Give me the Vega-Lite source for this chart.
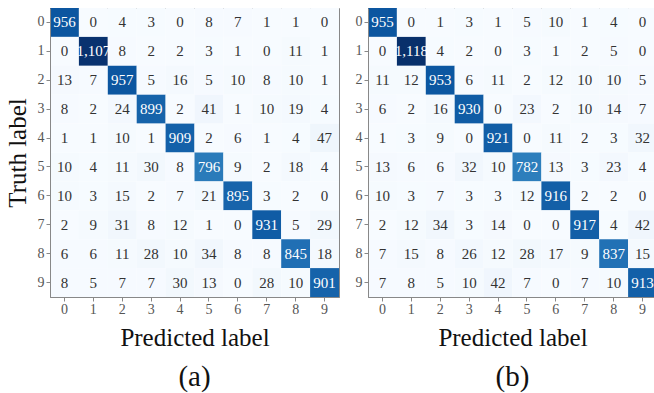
{
  "$schema": "https://vega.github.io/schema/vega-lite/v6.json",
  "background": "white",
  "padding": {"left": 4, "top": 7, "right": 0, "bottom": 0},
  "spacing": 14,
  "datasets": {
    "a": [
      {"t":0,"p":0,"v":956},{"t":0,"p":1,"v":0},{"t":0,"p":2,"v":4},{"t":0,"p":3,"v":3},{"t":0,"p":4,"v":0},{"t":0,"p":5,"v":8},{"t":0,"p":6,"v":7},{"t":0,"p":7,"v":1},{"t":0,"p":8,"v":1},{"t":0,"p":9,"v":0},
      {"t":1,"p":0,"v":0},{"t":1,"p":1,"v":1107},{"t":1,"p":2,"v":8},{"t":1,"p":3,"v":2},{"t":1,"p":4,"v":2},{"t":1,"p":5,"v":3},{"t":1,"p":6,"v":1},{"t":1,"p":7,"v":0},{"t":1,"p":8,"v":11},{"t":1,"p":9,"v":1},
      {"t":2,"p":0,"v":13},{"t":2,"p":1,"v":7},{"t":2,"p":2,"v":957},{"t":2,"p":3,"v":5},{"t":2,"p":4,"v":16},{"t":2,"p":5,"v":5},{"t":2,"p":6,"v":10},{"t":2,"p":7,"v":8},{"t":2,"p":8,"v":10},{"t":2,"p":9,"v":1},
      {"t":3,"p":0,"v":8},{"t":3,"p":1,"v":2},{"t":3,"p":2,"v":24},{"t":3,"p":3,"v":899},{"t":3,"p":4,"v":2},{"t":3,"p":5,"v":41},{"t":3,"p":6,"v":1},{"t":3,"p":7,"v":10},{"t":3,"p":8,"v":19},{"t":3,"p":9,"v":4},
      {"t":4,"p":0,"v":1},{"t":4,"p":1,"v":1},{"t":4,"p":2,"v":10},{"t":4,"p":3,"v":1},{"t":4,"p":4,"v":909},{"t":4,"p":5,"v":2},{"t":4,"p":6,"v":6},{"t":4,"p":7,"v":1},{"t":4,"p":8,"v":4},{"t":4,"p":9,"v":47},
      {"t":5,"p":0,"v":10},{"t":5,"p":1,"v":4},{"t":5,"p":2,"v":11},{"t":5,"p":3,"v":30},{"t":5,"p":4,"v":8},{"t":5,"p":5,"v":796},{"t":5,"p":6,"v":9},{"t":5,"p":7,"v":2},{"t":5,"p":8,"v":18},{"t":5,"p":9,"v":4},
      {"t":6,"p":0,"v":10},{"t":6,"p":1,"v":3},{"t":6,"p":2,"v":15},{"t":6,"p":3,"v":2},{"t":6,"p":4,"v":7},{"t":6,"p":5,"v":21},{"t":6,"p":6,"v":895},{"t":6,"p":7,"v":3},{"t":6,"p":8,"v":2},{"t":6,"p":9,"v":0},
      {"t":7,"p":0,"v":2},{"t":7,"p":1,"v":9},{"t":7,"p":2,"v":31},{"t":7,"p":3,"v":8},{"t":7,"p":4,"v":12},{"t":7,"p":5,"v":1},{"t":7,"p":6,"v":0},{"t":7,"p":7,"v":931},{"t":7,"p":8,"v":5},{"t":7,"p":9,"v":29},
      {"t":8,"p":0,"v":6},{"t":8,"p":1,"v":6},{"t":8,"p":2,"v":11},{"t":8,"p":3,"v":28},{"t":8,"p":4,"v":10},{"t":8,"p":5,"v":34},{"t":8,"p":6,"v":8},{"t":8,"p":7,"v":8},{"t":8,"p":8,"v":845},{"t":8,"p":9,"v":18},
      {"t":9,"p":0,"v":8},{"t":9,"p":1,"v":5},{"t":9,"p":2,"v":7},{"t":9,"p":3,"v":7},{"t":9,"p":4,"v":30},{"t":9,"p":5,"v":13},{"t":9,"p":6,"v":0},{"t":9,"p":7,"v":28},{"t":9,"p":8,"v":10},{"t":9,"p":9,"v":901}
    ],
    "b": [
      {"t":0,"p":0,"v":955},{"t":0,"p":1,"v":0},{"t":0,"p":2,"v":1},{"t":0,"p":3,"v":3},{"t":0,"p":4,"v":1},{"t":0,"p":5,"v":5},{"t":0,"p":6,"v":10},{"t":0,"p":7,"v":1},{"t":0,"p":8,"v":4},{"t":0,"p":9,"v":0},
      {"t":1,"p":0,"v":0},{"t":1,"p":1,"v":1118},{"t":1,"p":2,"v":4},{"t":1,"p":3,"v":2},{"t":1,"p":4,"v":0},{"t":1,"p":5,"v":3},{"t":1,"p":6,"v":1},{"t":1,"p":7,"v":2},{"t":1,"p":8,"v":5},{"t":1,"p":9,"v":0},
      {"t":2,"p":0,"v":11},{"t":2,"p":1,"v":12},{"t":2,"p":2,"v":953},{"t":2,"p":3,"v":6},{"t":2,"p":4,"v":11},{"t":2,"p":5,"v":2},{"t":2,"p":6,"v":12},{"t":2,"p":7,"v":10},{"t":2,"p":8,"v":10},{"t":2,"p":9,"v":5},
      {"t":3,"p":0,"v":6},{"t":3,"p":1,"v":2},{"t":3,"p":2,"v":16},{"t":3,"p":3,"v":930},{"t":3,"p":4,"v":0},{"t":3,"p":5,"v":23},{"t":3,"p":6,"v":2},{"t":3,"p":7,"v":10},{"t":3,"p":8,"v":14},{"t":3,"p":9,"v":7},
      {"t":4,"p":0,"v":1},{"t":4,"p":1,"v":3},{"t":4,"p":2,"v":9},{"t":4,"p":3,"v":0},{"t":4,"p":4,"v":921},{"t":4,"p":5,"v":0},{"t":4,"p":6,"v":11},{"t":4,"p":7,"v":2},{"t":4,"p":8,"v":3},{"t":4,"p":9,"v":32},
      {"t":5,"p":0,"v":13},{"t":5,"p":1,"v":6},{"t":5,"p":2,"v":6},{"t":5,"p":3,"v":32},{"t":5,"p":4,"v":10},{"t":5,"p":5,"v":782},{"t":5,"p":6,"v":13},{"t":5,"p":7,"v":3},{"t":5,"p":8,"v":23},{"t":5,"p":9,"v":4},
      {"t":6,"p":0,"v":10},{"t":6,"p":1,"v":3},{"t":6,"p":2,"v":7},{"t":6,"p":3,"v":3},{"t":6,"p":4,"v":3},{"t":6,"p":5,"v":12},{"t":6,"p":6,"v":916},{"t":6,"p":7,"v":2},{"t":6,"p":8,"v":2},{"t":6,"p":9,"v":0},
      {"t":7,"p":0,"v":2},{"t":7,"p":1,"v":12},{"t":7,"p":2,"v":34},{"t":7,"p":3,"v":3},{"t":7,"p":4,"v":14},{"t":7,"p":5,"v":0},{"t":7,"p":6,"v":0},{"t":7,"p":7,"v":917},{"t":7,"p":8,"v":4},{"t":7,"p":9,"v":42},
      {"t":8,"p":0,"v":7},{"t":8,"p":1,"v":15},{"t":8,"p":2,"v":8},{"t":8,"p":3,"v":26},{"t":8,"p":4,"v":12},{"t":8,"p":5,"v":28},{"t":8,"p":6,"v":17},{"t":8,"p":7,"v":9},{"t":8,"p":8,"v":837},{"t":8,"p":9,"v":15},
      {"t":9,"p":0,"v":7},{"t":9,"p":1,"v":8},{"t":9,"p":2,"v":5},{"t":9,"p":3,"v":10},{"t":9,"p":4,"v":42},{"t":9,"p":5,"v":7},{"t":9,"p":6,"v":0},{"t":9,"p":7,"v":7},{"t":9,"p":8,"v":10},{"t":9,"p":9,"v":913}
    ]
  },
  "config": {
    "view": {"stroke": "#888", "strokeWidth": 1},
    "axis": {
      "labelFont": "Liberation Serif", "labelFontSize": 14, "labelColor": "#555",
      "tickColor": "#888", "domainColor": "#888", "tickSize": 4,
      "titleFont": "Liberation Serif", "titleFontSize": 25, "titleFontWeight": "normal", "titleColor": "#111",
      "grid": false
    },
    "title": {"font": "Liberation Serif", "fontSize": 29, "fontWeight": "normal", "color": "#111"}
  },
  "hconcat": [
    {
      "width": 289, "height": 289,
      "data": {"name": "a"},
      "title": {"text": "(a)", "orient": "bottom", "offset": 13},
      "encoding": {
        "x": {"field": "p", "type": "ordinal", "scale": {"paddingInner": 0, "paddingOuter": 0}, "axis": {"title": "Predicted label", "labelAngle": 0, "titlePadding": 9, "labelPadding": 1}},
        "y": {"field": "t", "type": "ordinal", "scale": {"paddingInner": 0, "paddingOuter": 0}, "axis": {"title": "Truth label", "titlePadding": 7, "labelPadding": 2}}
      },
      "layer": [
        {"mark": {"type": "rect"}, "encoding": {"color": {"field": "v", "type": "quantitative", "legend": null,
          "scale": {"domain": [0, 138.4, 276.75, 415.1, 553.5, 691.9, 830.25, 968.6, 1107],
                    "range": ["#f7fbff","#deebf7","#c6dbef","#9ecae1","#6baed6","#4292c6","#2171b5","#08519c","#08306b"]}}}},
        {"mark": {"type": "text", "font": "Liberation Serif", "fontSize": 15},
         "encoding": {"text": {"field": "v", "type": "quantitative", "format": ",d"},
           "color": {"condition": {"test": "datum.v > 553", "value": "#ffffff"}, "value": "#333333"}}}
      ]
    },
    {
      "width": 289, "height": 289,
      "data": {"name": "b"},
      "title": {"text": "(b)", "orient": "bottom", "offset": 13},
      "encoding": {
        "x": {"field": "p", "type": "ordinal", "scale": {"paddingInner": 0, "paddingOuter": 0}, "axis": {"title": "Predicted label", "labelAngle": 0, "titlePadding": 9, "labelPadding": 1}},
        "y": {"field": "t", "type": "ordinal", "scale": {"paddingInner": 0, "paddingOuter": 0}, "axis": {"title": null, "labelPadding": 2}}
      },
      "layer": [
        {"mark": {"type": "rect"}, "encoding": {"color": {"field": "v", "type": "quantitative", "legend": null,
          "scale": {"domain": [0, 139.75, 279.5, 419.25, 559, 698.75, 838.5, 978.25, 1118],
                    "range": ["#fff5f0","#fee0d2","#fcbba1","#fc9272","#fb6a4a","#ef3b2c","#cb181d","#a50f15","#67000d"]}}}},
        {"mark": {"type": "text", "font": "Liberation Serif", "fontSize": 15},
         "encoding": {"text": {"field": "v", "type": "quantitative", "format": ",d"},
           "color": {"condition": {"test": "datum.v > 559", "value": "#ffffff"}, "value": "#333333"}}}
      ]
    }
  ]
}
